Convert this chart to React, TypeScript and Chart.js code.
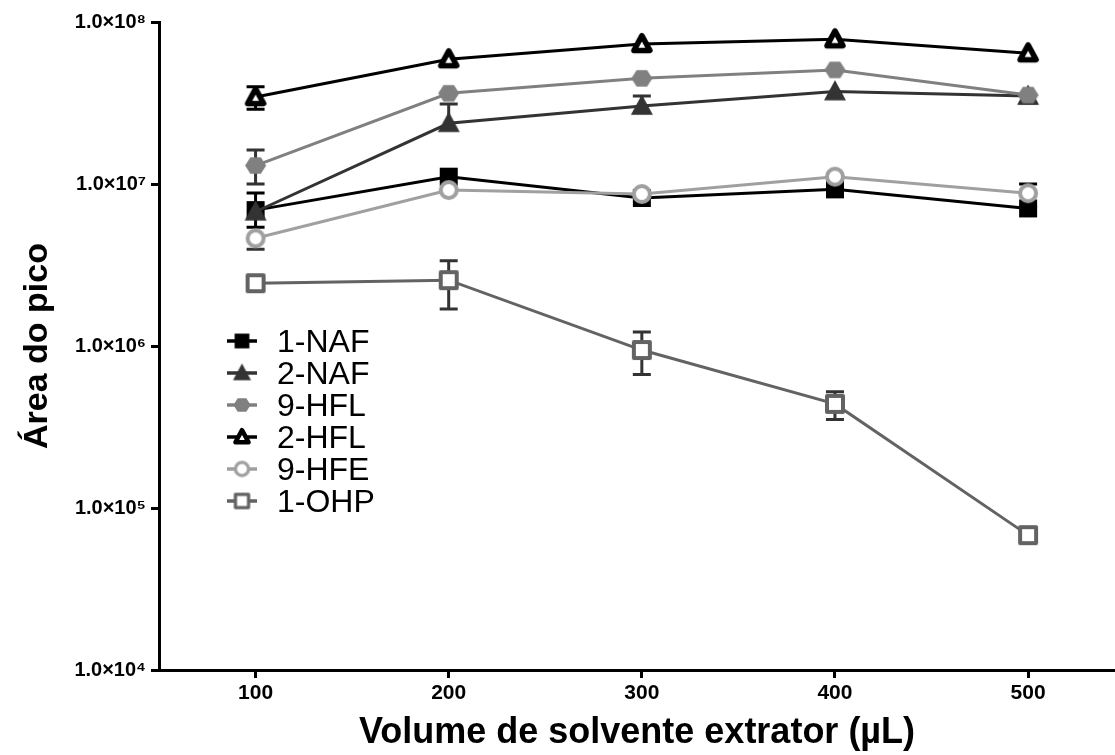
import React, { useEffect, useRef } from 'react';
import { Chart, registerables } from 'chart.js';

Chart.register(...registerables);

// ---------- DATA ----------
const volumes = [100, 200, 300, 400, 500];
const xTickValues = [100, 200, 300, 400, 500];
const yTickValues = [1e4, 1e5, 1e6, 1e7, 1e8];
const yTickLabels = ['1.0×10⁴', '1.0×10⁵', '1.0×10⁶', '1.0×10⁷', '1.0×10⁸'];

const seriesNames = ['1-NAF', '2-NAF', '9-HFL', '2-HFL', '9-HFE', '1-OHP'];

const naf1 = [6.9e6, 1.11e7, 8.2e6, 9.27e6, 7.07e6];
const naf1Hi = [8.8e6, null, null, null, 1.0e7];
const naf1Lo = [5.4e6, null, null, null, null];

const naf2 = [6.74e6, 2.37e7, 3.03e7, 3.72e7, 3.49e7];
const naf2Hi = [null, 3.12e7, 3.49e7, null, null];
const naf2Lo = [null, null, null, null, 3.16e7];

const hfl9 = [1.3e7, 3.63e7, 4.49e7, 5.06e7, 3.54e7];
const hfl9Hi = [1.62e7, null, null, null, null];
const hfl9Lo = [1.0e7, null, null, null, null];

const hfl2 = [3.44e7, 5.89e7, 7.31e7, 7.82e7, 6.41e7];
const hfl2Hi = [3.98e7, null, null, null, null];
const hfl2Lo = [2.89e7, null, null, null, null];

const hfe9 = [4.62e6, 9.18e6, 8.67e6, 1.11e7, 8.77e6];
const hfe9Hi = [null, null, null, null, null];
const hfe9Lo = [3.95e6, null, null, null, 7.25e6];

const ohp1 = [2.44e6, 2.55e6, 9.44e5, 4.39e5, 6.8e4];
const ohp1Hi = [null, 3.36e6, 1.22e6, 5.22e5, null];
const ohp1Lo = [null, 1.69e6, 6.68e5, 3.52e5, null];

const seriesValues = [naf1, naf2, hfl9, hfl2, hfe9, ohp1];
const seriesHi = [naf1Hi, naf2Hi, hfl9Hi, hfl2Hi, hfe9Hi, ohp1Hi];
const seriesLo = [naf1Lo, naf2Lo, hfl9Lo, hfl2Lo, hfe9Lo, ohp1Lo];

// ---------- STYLE ----------
const FONT = '"Liberation Sans", Arial, sans-serif';
const lineColors = ['#000000', '#333333', '#808080', '#000000', '#a0a0a0', '#636363'];
const errColors = ['#000000', '#333333', '#333333', '#000000', '#333333', '#333333'];
type MarkerSpec = { kind: string; fill: string; stroke: string; lw: number; r: number };
const markerSpecs: MarkerSpec[] = [
  { kind: 'square', fill: '#000000', stroke: '#000000', lw: 0, r: 9 },
  { kind: 'triangle', fill: '#333333', stroke: '#333333', lw: 0, r: 11 },
  { kind: 'hexagon', fill: '#808080', stroke: '#808080', lw: 0, r: 10.5 },
  { kind: 'triangle', fill: '#ffffff', stroke: '#000000', lw: 5.5, r: 8 },
  { kind: 'circle', fill: '#ffffff', stroke: '#a0a0a0', lw: 4, r: 8 },
  { kind: 'square', fill: '#ffffff', stroke: '#636363', lw: 4, r: 8 },
];

function pathMarker(ctx: CanvasRenderingContext2D, kind: string, x: number, y: number, r: number) {
  ctx.beginPath();
  if (kind === 'square') {
    ctx.rect(x - r, y - r, 2 * r, 2 * r);
  } else if (kind === 'triangle') {
    ctx.moveTo(x, y - r * 1.05);
    ctx.lineTo(x + r, y + r * 0.8);
    ctx.lineTo(x - r, y + r * 0.8);
    ctx.closePath();
  } else if (kind === 'hexagon') {
    for (let k = 0; k < 6; k++) {
      const a = (Math.PI / 3) * k;
      const px = x + r * Math.cos(a);
      const py = y + r * 0.92 * Math.sin(a);
      if (k === 0) ctx.moveTo(px, py);
      else ctx.lineTo(px, py);
    }
    ctx.closePath();
  } else {
    ctx.arc(x, y, r, 0, Math.PI * 2);
  }
}

function makeMarkerCanvas(spec: MarkerSpec, scale: number): HTMLCanvasElement {
  const r = spec.r * scale;
  const size = Math.ceil(2 * r + spec.lw * scale + 6);
  const c = document.createElement('canvas');
  c.width = size;
  c.height = size;
  const ctx = c.getContext('2d') as CanvasRenderingContext2D;
  pathMarker(ctx, spec.kind, size / 2, size / 2, r);
  ctx.fillStyle = spec.fill;
  ctx.fill();
  if (spec.lw > 0) {
    ctx.lineWidth = spec.lw * scale;
    ctx.strokeStyle = spec.stroke;
    ctx.lineJoin = 'round';
    ctx.stroke();
  }
  return c;
}

const errorBarPlugin = {
  id: 'errorBars',
  beforeDatasetsDraw(chart: any) {
    const { ctx, scales } = chart;
    const xs = scales.x;
    const ys = scales.y;
    ctx.save();
    ctx.lineWidth = 3;
    const cap = 9;
    seriesValues.forEach((vals, s) => {
      ctx.strokeStyle = errColors[s];
      vals.forEach((v, i) => {
        const px = xs.getPixelForValue(volumes[i]);
        const py = ys.getPixelForValue(v);
        [seriesHi[s][i], seriesLo[s][i]].forEach((e) => {
          if (e == null) return;
          const pe = ys.getPixelForValue(e);
          ctx.beginPath();
          ctx.moveTo(px, py);
          ctx.lineTo(px, pe);
          ctx.moveTo(px - cap, pe);
          ctx.lineTo(px + cap, pe);
          ctx.stroke();
        });
      });
    });
    ctx.restore();
  },
};

let legendMarkers: HTMLCanvasElement[] = [];

const legendPlugin = {
  id: 'customLegend',
  afterDraw(chart: any) {
    const { ctx, chartArea } = chart;
    const x0 = chartArea.left + 68;
    const y0 = chartArea.top + 319;
    const step = 32;
    ctx.save();
    chart.data.datasets.forEach((ds: any, i: number) => {
      const cy = y0 + i * step;
      ctx.strokeStyle = lineColors[i];
      ctx.lineWidth = 3.5;
      ctx.beginPath();
      ctx.moveTo(x0, cy);
      ctx.lineTo(x0 + 30, cy);
      ctx.stroke();
      const img = legendMarkers[i];
      ctx.drawImage(img, x0 + 15 - img.width / 2, cy - img.height / 2);
      ctx.fillStyle = '#000';
      ctx.font = `32px ${FONT}`;
      ctx.textBaseline = 'alphabetic';
      ctx.textAlign = 'left';
      ctx.fillText(ds.label, x0 + 50, cy + 11);
    });
    ctx.restore();
  },
};

export default function App() {
  const ref = useRef<HTMLCanvasElement | null>(null);

  useEffect(() => {
    document.body.style.margin = '0';
    const canvas = ref.current;
    if (!canvas) return;
    const chartMarkers = markerSpecs.map((m) => makeMarkerCanvas(m, 1));
    legendMarkers = markerSpecs.map((m) => makeMarkerCanvas(m, 0.82));

    const datasets = seriesNames.map((name, s) => ({
      label: name,
      data: volumes.map((v, i) => ({ x: v, y: seriesValues[s][i] })),
      borderColor: lineColors[s],
      backgroundColor: lineColors[s],
      borderWidth: 3,
      pointStyle: chartMarkers[s] as any,
      pointRadius: 10,
      pointHoverRadius: 10,
      tension: 0,
      fill: false,
      order: seriesNames.length - s,
    }));

    const chart = new Chart(canvas, {
      type: 'line',
      data: { datasets },
      plugins: [errorBarPlugin, legendPlugin],
      options: {
        animation: false,
        responsive: false,
        events: [],
        layout: { padding: { top: 22, left: 0, right: 0, bottom: 0 }, autoPadding: false },
        plugins: { legend: { display: false }, tooltip: { enabled: false } },
        scales: {
          x: {
            type: 'linear',
            min: 50,
            max: 545,
            afterBuildTicks: (scale: any) => {
              scale.ticks = xTickValues.map((v) => ({ value: v }));
            },
            afterFit: (scale: any) => {
              scale.height = 85;
            },
            grid: {
              display: true,
              drawOnChartArea: false,
              drawTicks: true,
              tickLength: 8,
              color: '#000',
              lineWidth: 3,
            },
            border: { display: true, color: '#000', width: 3 },
            ticks: {
              color: '#000',
              font: { family: FONT, size: 21, weight: 'bold' },
              padding: 3,
              maxRotation: 0,
              callback: (v: any) => String(v),
            },
            title: {
              display: true,
              text: 'Volume de solvente extrator (µL)',
              color: '#000',
              font: { family: FONT, size: 36, weight: 'bold', lineHeight: 1.2 },
              padding: { top: 0, bottom: 0 },
            },
          },
          y: {
            type: 'logarithmic',
            min: 1e4,
            max: 1e8,
            afterBuildTicks: (scale: any) => {
              scale.ticks = yTickValues.map((v) => ({ value: v, major: true }));
            },
            afterFit: (scale: any) => {
              scale.width = 159;
            },
            grid: {
              display: true,
              drawOnChartArea: false,
              drawTicks: true,
              tickLength: 8,
              color: '#000',
              lineWidth: 3,
            },
            border: { display: true, color: '#000', width: 3 },
            ticks: {
              color: '#000',
              font: { family: FONT, size: 20, weight: 'bold' },
              padding: 5,
              callback: (v: any) => {
                const idx = yTickValues.indexOf(Number(v));
                return idx >= 0 ? yTickLabels[idx] : '';
              },
            },
            title: {
              display: true,
              text: 'Área do pico',
              color: '#000',
              font: { family: FONT, size: 34, weight: 'bold', lineHeight: 1.2 },
              padding: { top: 17, bottom: 0 },
            },
          },
        },
      } as any,
    });

    return () => {
      chart.destroy();
    };
  }, []);

  return (
    <div style={{ width: 1115, height: 755, position: 'relative' }}>
      <canvas ref={ref} width={1115} height={755} style={{ display: 'block' }} />
    </div>
  );
}
